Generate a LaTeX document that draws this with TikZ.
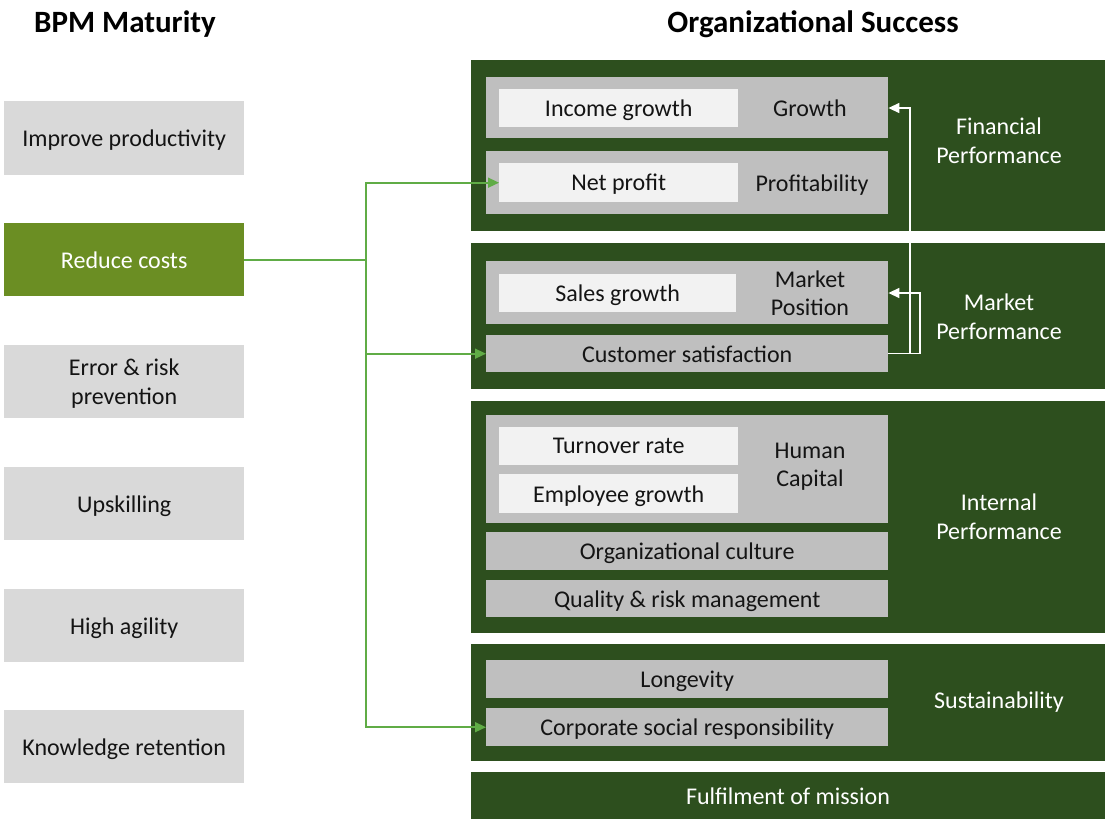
\documentclass[tikz,border=0pt]{standalone}
\usepackage{fontspec}
\setmainfont{Carlito}
\usetikzlibrary{arrows.meta}
\definecolor{dgreen}{RGB}{45,79,30}
\definecolor{olive}{RGB}{107,142,35}
\definecolor{lgreen}{RGB}{96,172,70}
\definecolor{lgray}{RGB}{217,217,217}
\definecolor{mgray}{RGB}{191,191,191}
\definecolor{wgray}{RGB}{242,242,242}
\definecolor{ink}{RGB}{20,20,20}
\tikzset{
  box/.style={anchor=north west, inner sep=0pt, draw=none, align=center,
    text depth=0pt, font=\fontsize{24}{29}\selectfont},
  leftbox/.style={box, fill=lgray, text=ink, minimum width=240pt},
  hot/.style={box, fill=olive, text=white, minimum width=240pt},
  panel/.style={box, fill=dgreen, minimum width=634pt},
  graybox/.style={box, fill=mgray, text=ink, minimum width=402pt},
  whitebox/.style={box, fill=wgray, text=ink, minimum width=239pt},
  plabel/.style={text=white, align=center, inner sep=0pt, text depth=0pt,
    font=\fontsize{24}{29}\selectfont},
  blabel/.style={text=ink, align=center, inner sep=0pt, text depth=0pt,
    font=\fontsize{24}{28}\selectfont},
  title/.style={text=black, inner sep=0pt, text depth=0pt,
    font=\fontsize{31}{34}\selectfont\bfseries},
  glink/.style={draw=lgreen, line width=1.6pt, -{Triangle[length=11pt,width=10pt]}},
  wlink/.style={draw=white, line width=1.4pt, -{Triangle[length=11pt,width=10pt]}},
}
\begin{document}
\begin{tikzpicture}[x=1pt,y=-1pt]
\useasboundingbox (0,0) rectangle (1105,819);

% headings
\node[title] (t1) at (125,22) {BPM Maturity};
\node[title] (t2) at (813,22) {Organizational Success};

% BPM maturity column
\node[leftbox, minimum height=74pt] (b1) at (4,101) {Improve productivity};
\node[hot, minimum height=73pt] (b2) at (4,223) {Reduce costs};
\node[leftbox, minimum height=73pt] (b3) at (4,345) {Error \& risk\\prevention};
\node[leftbox, minimum height=73pt] (b4) at (4,467) {Upskilling};
\node[leftbox, minimum height=73pt] (b5) at (4,589) {High agility};
\node[leftbox, minimum height=73pt] (b6) at (4,710) {Knowledge retention};

% success panels
\node[panel, minimum height=171pt] (p1) at (471,60) {};
\node[panel, minimum height=146pt] (p2) at (471,243) {};
\node[panel, minimum height=232pt] (p3) at (471,401) {};
\node[panel, minimum height=117pt] (p4) at (471,644) {};
\node[panel, minimum height=47pt] (p5) at (471,772) {};

\node[plabel] (l1) at (999,141) {Financial\\Performance};
\node[plabel] (l2) at (999,317) {Market\\Performance};
\node[plabel] (l3) at (999,517) {Internal\\Performance};
\node[plabel] (l4) at (999,700) {Sustainability};
\node[plabel] (l5) at (788,796) {Fulfilment of mission};

% financial performance
\node[graybox, minimum height=61pt] (g1) at (486,77) {};
\node[whitebox, minimum height=38pt] (w1) at (499,89) {Income growth};
\node[blabel] (n1) at (810,108) {Growth};
\node[graybox, minimum height=63pt] (g2) at (486,151) {};
\node[whitebox, minimum height=39pt] (w2) at (499,163) {Net profit};
\node[blabel] (n2) at (812,183) {Profitability};

% market performance
\node[graybox, minimum height=63pt] (g3) at (486,261) {};
\node[whitebox, minimum width=237pt, minimum height=38pt] (w3) at (499,274) {Sales growth};
\node[blabel] (n3) at (810,293) {Market\\Position};
\node[graybox, minimum height=37pt] (g4) at (486,335) {Customer satisfaction};

% internal performance
\node[graybox, minimum height=108pt] (g5) at (486,415) {};
\node[whitebox, minimum height=38pt] (w5) at (499,427) {Turnover rate};
\node[whitebox, minimum height=39pt] (w6) at (499,474) {Employee growth};
\node[blabel] (n5) at (810,465) {Human\\Capital};
\node[graybox, minimum height=38pt] (g6) at (486,532) {Organizational culture};
\node[graybox, minimum height=37pt] (g7) at (486,580) {Quality \& risk management};

% sustainability
\node[graybox, minimum height=38pt] (g8) at (486,660) {Longevity};
\node[graybox, minimum height=38pt] (g9) at (486,708) {Corporate social responsibility};

% links from reducing costs
\coordinate (jx) at (366,0);
\coordinate (j0) at (b2.east -| jx);
\draw[draw=lgreen, line width=1.6pt] (b2.east) -- (j0);
\draw[glink] (j0) |- (w2.west);
\draw[glink] (j0) |- (g4.west);
\draw[glink] (j0) |- (g9.west);

% feedback from customer satisfaction
\coordinate (k1) at (910,0);
\coordinate (k2) at (920,0);
\draw[wlink] (g4.east) -- (g4.east -| k1) -- (k1 |- n1) -- (g1.east |- n1);
\draw[wlink] (g4.east) -- (g4.east -| k2) -- (k2 |- n3) -- (g3.east |- n3);
\end{tikzpicture}
\end{document}
